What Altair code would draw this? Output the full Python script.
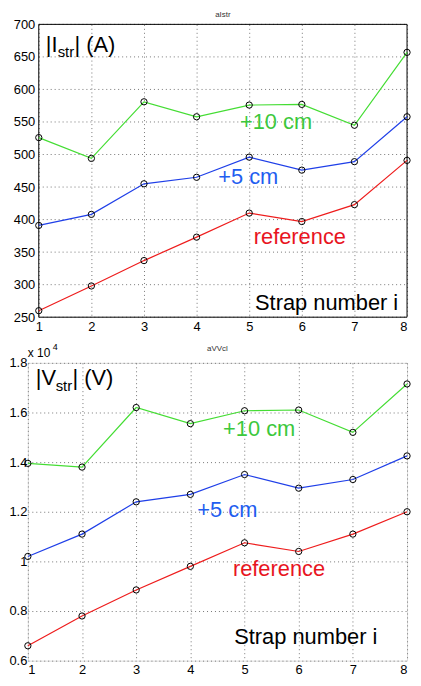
import altair as alt
import pandas as pd

# ---- data ----
straps = [1, 2, 3, 4, 5, 6, 7, 8]
series_names = ["reference", "+5 cm", "+10 cm"]
series_colors = ["#ee1c1c", "#1f3fe8", "#44dd33"]
label_colors = ["#e8141e", "#1f5ef0", "#3cc83c"]

i_ref = [260, 298, 337, 373, 410, 397, 423, 491]
i_5cm = [391, 408, 455, 465, 496, 476, 489, 558]
i_10cm = [526, 494, 581, 558, 576, 577, 545, 657]

v_ref = [6600, 7800, 8850, 9800, 10750, 10400, 11100, 12000]
v_5cm = [10200, 11100, 12400, 12700, 13500, 12950, 13300, 14250]
v_10cm = [13950, 13800, 16200, 15550, 16070, 16100, 15200, 17150]

i_ticks = [250, 300, 350, 400, 450, 500, 550, 600, 650, 700]
v_ticks = [6000, 8000, 10000, 12000, 14000, 16000, 18000]

FONT = "Liberation Sans"
GRID = dict(strokeDash=[1, 3], color="#777", strokeWidth=1)


def long_df(vals):
    rows = []
    for name, ys in zip(series_names, vals):
        for s, y in zip(straps, ys):
            rows.append({"strap": s, "value": y, "series": name})
    return pd.DataFrame(rows)


def text_at(x, y, txt, size, color="black", align="left", baseline="alphabetic"):
    return alt.Chart(pd.DataFrame({"t": [txt]})).mark_text(
        font=FONT, fontSize=size, color=color, align=align, baseline=baseline
    ).encode(x=alt.value(x), y=alt.value(y), text="t:N")


def panel(vals, ticks, ydomain, w, h, label_expr, ylabpad, annots, left_shift=0):
    """left_shift: pixels between the group's left edge and the plot frame."""
    df = long_df(vals)
    x_lo = 1 - 7 * left_shift / (w - left_shift)
    xscale = alt.Scale(domain=[x_lo, 8], nice=False, zero=False)
    yscale = alt.Scale(domain=ydomain, nice=False, zero=False)
    xaxis = alt.Axis(values=straps, title=None, grid=True, ticks=False,
                     domain=False, labelPadding=3, labelFontSize=13,
                     labelFont=FONT, labelColor="black", format="d",
                     labelOverlap=False,
                     gridDash=[1, 3], gridColor="#777", gridOpacity=1)
    yaxis = alt.Axis(values=ticks, title=None, grid=(left_shift == 0), ticks=False,
                     domain=False, labelPadding=ylabpad, labelFontSize=13,
                     labelFont=FONT, labelColor="black", labelExpr=label_expr,
                     labelOverlap=False, offset=-left_shift,
                     gridDash=[1, 3], gridColor="#777", gridOpacity=1,
                     minExtent=0)

    def xe(f):
        return alt.X(f, scale=xscale, axis=xaxis)

    def ye(f):
        return alt.Y(f, scale=yscale, axis=yaxis)

    color = alt.Color("series:N", scale=alt.Scale(domain=series_names, range=series_colors),
                      legend=None)
    base = alt.Chart(df)
    layers = []
    if left_shift:
        gdf = pd.DataFrame({"gy": ticks, "gx1": [1] * len(ticks), "gx2": [8] * len(ticks)})
        layers.append(alt.Chart(gdf).mark_rule(**GRID).encode(
            x=xe("gx1:Q"), x2="gx2:Q", y=ye("gy:Q")))
        fdf = pd.DataFrame({
            "fx1": [1, 1, 1, 8], "fx2": [8, 8, 1, 8],
            "fy1": [ydomain[1], ydomain[0], ydomain[0], ydomain[0]],
            "fy2": [ydomain[1], ydomain[0], ydomain[1], ydomain[1]],
        })
        layers.append(alt.Chart(fdf).mark_rule(color="black", strokeWidth=1).encode(
            x=xe("fx1:Q"), x2="fx2:Q", y=ye("fy1:Q"), y2="fy2:Q"))
    lines = base.mark_line(strokeWidth=1.2).encode(
        x=xe("strap:Q"), y=ye("value:Q"), color=color, detail="series:N")
    pts = base.mark_point(shape="circle", filled=False, color="black", size=40,
                          strokeWidth=1, opacity=1).encode(x=xe("strap:Q"), y=ye("value:Q"))
    layers += [lines, pts] + annots
    ch = alt.layer(*layers).properties(width=w, height=h)
    if left_shift:
        ch = ch.properties(view=alt.ViewBackground(stroke="transparent"))
    return ch


SHIFT = 11                 # top frame starts 11px right of the bottom one
TW, TH = 382, 295
BW, BH = 382, 300

top_annots = [
    text_at(SHIFT + (TW - SHIFT) / 2, -7, "aIstr", 8, "#333", "center"),
    text_at(18, 28, "|I", 22),
    text_at(30, 33, "str", 15),
    text_at(47, 28, "| (A)", 22),
    text_at(250, 98, "+10 cm", 22, label_colors[2], "center", "middle"),
    text_at(222, 154, "+5 cm", 22, label_colors[1], "center", "middle"),
    text_at(274, 214, "reference", 22, label_colors[0], "center", "middle"),
    text_at(301, 281, "Strap number i", 22, "black", "center", "middle"),
]
bot_annots = [
    text_at(BW / 2, -12, "aVVcl", 8, "#333", "center"),
    text_at(8, 22, "|V", 22),
    text_at(28, 28, "str", 15),
    text_at(45, 22, "| (V)", 22),
    text_at(0, -6, "x 10", 12),
    text_at(25, -13, "4", 9),
    text_at(233, 67, "+10 cm", 22, label_colors[2], "center", "middle"),
    text_at(201, 148, "+5 cm", 22, label_colors[1], "center", "middle"),
    text_at(253, 208, "reference", 22, label_colors[0], "center", "middle"),
    text_at(280, 276, "Strap number i", 22, "black", "center", "middle"),
]

top = panel([i_ref, i_5cm, i_10cm], i_ticks, [250, 700], TW, TH,
            "datum.label", 4, top_annots, left_shift=SHIFT)
bot = panel([v_ref, v_5cm, v_10cm], v_ticks, [6000, 18000], BW, BH,
            "format(datum.value / 10000, '~g')", 1, bot_annots)

chart = alt.VConcatChart(
    vconcat=[top, bot], spacing=8, padding=0
).configure_view(stroke="black", strokeWidth=1).configure_axis(
    labelOverlap=False
).configure(background="white", padding=0)

chart.save("out.html", embed_options={"renderer": "svg", "actions": False})
